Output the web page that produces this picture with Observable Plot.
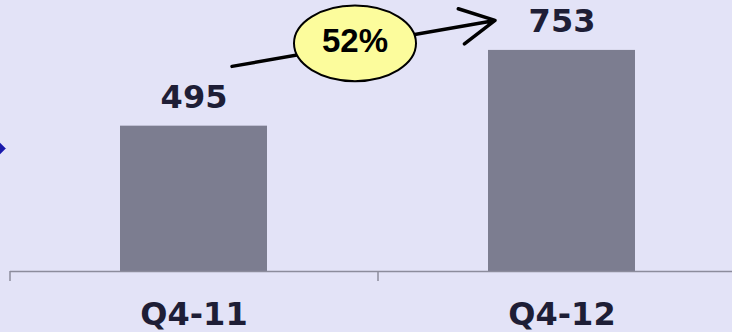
<!DOCTYPE html>
<html><head><meta charset="utf-8">
<script src="https://cdn.jsdelivr.net/npm/d3@7"></script>
<script src="https://cdn.jsdelivr.net/npm/@observablehq/plot@0.6"></script>
<style>
html,body{margin:0;padding:0;background:#E3E3F7;overflow:hidden;}
svg{display:block;background:#E3E3F7;}
</style></head><body><div id="chart"></div>
<script>
// Data
const quarters = ["Q4-11", "Q4-12"];
const values = [495, 753];
// Annotation: growth arrow y-values (in data units) and badge position
const arrowYFrom = 676;
const arrowYTo = 895;
const badgeY = 777;

const data = quarters.map((q, i) => ({q, v: values[i]}));
const growthLabel = d3.format(".0%")(values[1] / values[0] - 1);

const ink = "#1E1E36";
const ellipseSymbol = {
  draw(ctx, size) {
    const rx = Math.sqrt(size / Math.PI), ry = rx * 0.62, k = 0.5523;
    ctx.moveTo(rx, 0);
    ctx.bezierCurveTo(rx, ry * k, rx * k, ry, 0, ry);
    ctx.bezierCurveTo(-rx * k, ry, -rx, ry * k, -rx, 0);
    ctx.bezierCurveTo(-rx, -ry * k, -rx * k, -ry, 0, -ry);
    ctx.bezierCurveTo(rx * k, -ry, rx, -ry * k, rx, 0);
    ctx.closePath();
  }
};

const chart = Plot.plot({
  width: 732,
  height: 332,
  marginTop: 0,
  marginBottom: 61,
  marginLeft: 10,
  marginRight: 0,
  style: {background: "#E3E3F7"},
  x: {domain: quarters, range: [10, 746], paddingInner: 0.6, paddingOuter: 0.3, label: null},
  y: {domain: [0, 923], axis: null, label: null},
  marks: [
    Plot.barY(data, {x: "q", y: "v", fill: "#7C7D90"}),
    Plot.ruleY([0], {stroke: "#8C8C9C", strokeWidth: 1.5}),
    Plot.axisX({tickSize: 10, tickFormat: () => "", dx: -184, stroke: "#8C8C9C", strokeWidth: 1.5, label: null}),
    Plot.axisX({tickSize: 0, tickPadding: 31, fontSize: 32, fontWeight: "bold", fontFamily: "DejaVu Sans", fill: ink, label: null}),
    Plot.text(data, {x: "q", y: "v", text: d => String(d.v), lineAnchor: "bottom", dy: -18,
      fontSize: 32, fontWeight: "bold", fontFamily: "DejaVu Sans", fill: ink}),
    Plot.arrow([0], {x1: () => quarters[0], x2: () => quarters[1], y1: () => arrowYFrom, y2: () => arrowYTo,
      insetStart: 38.6, insetEnd: 68, stroke: "black", strokeWidth: 3.5, headAngle: 55, headLength: 16.5}),
    Plot.dot([growthLabel], {x: () => quarters[0], y: () => badgeY, dx: 161, r: 61, symbol: ellipseSymbol,
      fill: "#FCFC9C", stroke: "black", strokeWidth: 2}),
    Plot.text([growthLabel], {x: () => quarters[0], y: () => badgeY, dx: 161, dy: -2, text: d => d,
      fontSize: 33, fontWeight: "bold", fontFamily: "Liberation Sans", fill: "black"}),
    Plot.dot([0], {frameAnchor: "left", dx: -15.5, dy: 12.5, symbol: "diamond2", r: 9.5, fill: "#1A1AA8", stroke: "#4A4AC8", strokeWidth: 1})
  ]
});
document.getElementById("chart").appendChild(chart);
</script>
</body></html>
